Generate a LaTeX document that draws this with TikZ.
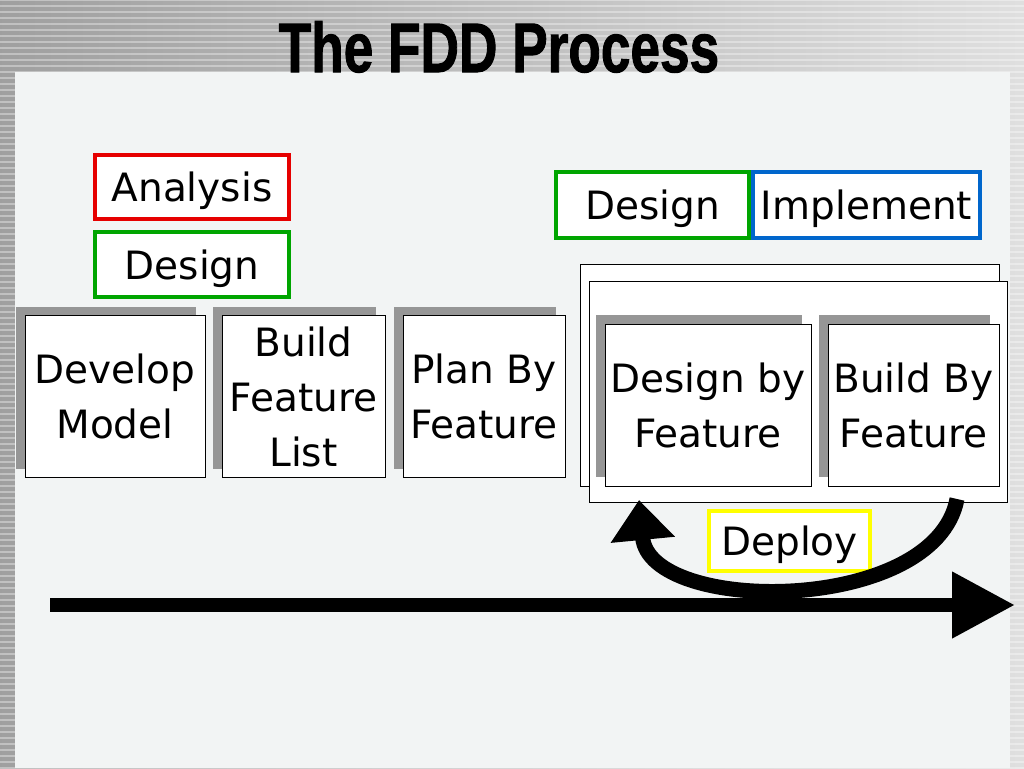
\documentclass[tikz,border=0pt]{standalone}
\usepackage{graphicx}
\usepackage{fontspec}
\setmainfont{DejaVu Sans}
\newfontfamily\titlefont{Liberation Sans}[BoldFeatures={FakeBold=1.6}]
\usetikzlibrary{positioning,arrows.meta,shadows}
\definecolor{shadowgray}{RGB}{150,150,150}
\definecolor{panelgray}{RGB}{242,244,244}
\definecolor{tagred}{RGB}{230,0,0}
\definecolor{taggreen}{RGB}{0,165,0}
\definecolor{tagblue}{RGB}{0,102,204}
\definecolor{tagyellow}{RGB}{255,255,0}

\begin{document}
\begin{tikzpicture}[x=1pt, y=-1pt]
    \tikzset{
    stepbox/.style={
        rectangle,
        draw=black,
        line width=1pt,
        fill=white,
        inner sep=0pt,
        minimum height=162pt,
        align=center,
        font=\fontsize{39}{55}\selectfont,
        drop shadow={opacity=1, fill=shadowgray, shadow xshift=-9pt, shadow yshift=9pt}
    },
    tagbox/.style={
        rectangle,
        line width=4pt,
        fill=white,
        inner sep=0pt,
        minimum height=64pt,
        text height=29pt,
        text depth=0pt,
        font=\fontsize{39}{55}\selectfont
    },
    bigarrow/.style={
        line width=14pt, line cap=butt
    }
}
    \useasboundingbox (0,0) rectangle (1024,768);

    % background
    \shade[left color=gray!75, right color=gray!25] (0,0) rectangle (1024,768);
    \foreach \y in {0,6,...,768}
        \draw[white, opacity=0.35, line width=2pt] (0,\y) -- (1024,\y);
    \fill[panelgray] (15,72) rectangle (1010,768);

    \node[anchor=base] (title) at (499,72)
        {\scalebox{0.76}[1]{\titlefont\bfseries\fontsize{70}{70}\selectfont The FDD Process}};

    % first three steps
    \node[stepbox, minimum width=180pt] (dev) at (115,396.5) {Develop\\Model};
    \node[stepbox, minimum width=163pt, right=16pt of dev] (bfl) {Build\\Feature\\List};
    \node[stepbox, minimum width=162pt, right=17pt of bfl] (pbf) {Plan By\\Feature};

    % iteration
    \draw[line width=1pt, fill=white] (580,264) rectangle (999,486);
    \draw[line width=1pt, fill=white] (589,281) rectangle (1007,502);
    \node[stepbox, minimum width=206pt] (dbf) at (708,405) {Design by\\Feature};
    \node[stepbox, minimum width=171pt, right=16pt of dbf] (bbf) {Build By\\Feature};

    % activities
    \node[tagbox, draw=tagred, minimum width=194pt] (analysis) at (192,187) {Analysis};
    \node[tagbox, draw=taggreen, minimum width=194pt, minimum height=65pt] (designL) at (192,264.5) {Design};
    \node[tagbox, draw=tagblue, minimum width=227pt, minimum height=66pt] (impl) at (866.5,205) {Implement};
    \node[tagbox, draw=taggreen, minimum width=193pt, minimum height=66pt] (designR) at (652.5,205) {Design};
    \node[tagbox, draw=tagyellow, minimum width=161pt, minimum height=60pt] (deploy) at (789.5,541) {Deploy};

    % arrows
    \coordinate (tstart) at (50,605);
    \coordinate (tend) at (1015,605);
    \coordinate (loopstart) at (957,499);
    \coordinate (looptip) at (639,500);
    \draw[bigarrow, -{Triangle[length=63pt,width=63pt]}] (tstart) -- (tend);
    \draw[bigarrow, line width=15pt, -{Triangle[length=40pt,width=62pt]}]
        (loopstart) .. controls (935,615) and (650,615) .. (looptip);
\end{tikzpicture}
\end{document}
